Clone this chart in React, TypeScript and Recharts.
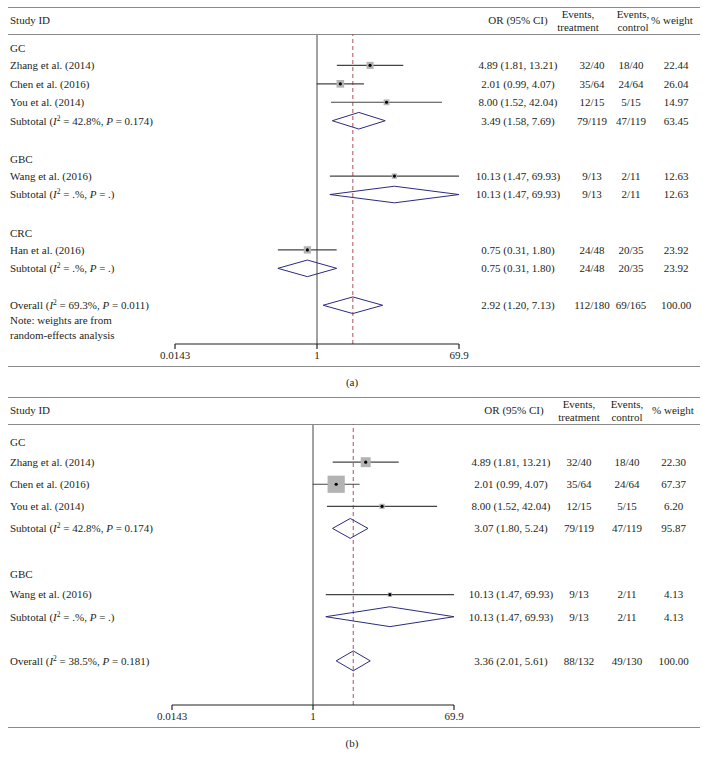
import { ComposedChart, Scatter, XAxis, YAxis, ReferenceLine, ErrorBar } from "recharts";

const FONT = '"Liberation Serif", "DejaVu Serif", serif';
const FS = 11;
const INK = "#231f20";
const NAVY = "#2b2b80";

// panel (a)
const labelsA = ["GC", "Zhang et al. (2014)", "Chen et al. (2016)", "You et al. (2014)", "Subtotal", "GBC", "Wang et al. (2016)", "Subtotal", "CRC", "Han et al. (2016)", "Subtotal", "Overall"];
const rowsA = [0, 1, 2, 3, 4, 6, 7, 8, 10, 11, 12, 14];
const kindsA = ["group", "study", "study", "study", "pooled", "group", "study", "pooled", "group", "study", "pooled", "pooled"];
const orA = [null, 4.89, 2.01, 8.0, 3.49, null, 10.13, 10.13, null, 0.75, 0.75, 2.92];
const loA = [null, 1.81, 0.99, 1.52, 1.58, null, 1.47, 1.47, null, 0.31, 0.31, 1.2];
const hiA = [null, 13.21, 4.07, 42.04, 7.69, null, 69.93, 69.93, null, 1.8, 1.8, 7.13];
const treatA = ["", "32/40", "35/64", "12/15", "79/119", "", "9/13", "9/13", "", "24/48", "24/48", "112/180"];
const ctrlA = ["", "18/40", "24/64", "5/15", "47/119", "", "2/11", "2/11", "", "20/35", "20/35", "69/165"];
const weightA = [null, 22.44, 26.04, 14.97, 63.45, null, 12.63, 12.63, null, 23.92, 23.92, 100];
const i2A = [null, null, null, null, "42.8%", null, null, ".%", null, null, ".%", "69.3%"];
const pA = [null, null, null, null, "0.174", null, null, ".", null, null, ".", "0.011"];

// panel (b)
const labelsB = ["GC", "Zhang et al. (2014)", "Chen et al. (2016)", "You et al. (2014)", "Subtotal", "GBC", "Wang et al. (2016)", "Subtotal", "Overall"];
const rowsB = [0, 1, 2, 3, 4, 6, 7, 8, 10];
const kindsB = ["group", "study", "study", "study", "pooled", "group", "study", "pooled", "pooled"];
const orB = [null, 4.89, 2.01, 8.0, 3.07, null, 10.13, 10.13, 3.36];
const loB = [null, 1.81, 0.99, 1.52, 1.8, null, 1.47, 1.47, 2.01];
const hiB = [null, 13.21, 4.07, 42.04, 5.24, null, 69.93, 69.93, 5.61];
const treatB = ["", "32/40", "35/64", "12/15", "79/119", "", "9/13", "9/13", "88/132"];
const ctrlB = ["", "18/40", "24/64", "5/15", "47/119", "", "2/11", "2/11", "49/130"];
const weightB = [null, 22.3, 67.37, 6.2, 95.87, null, 4.13, 4.13, 100];
const i2B = [null, null, null, null, "42.8%", null, null, ".%", "38.5%"];
const pB = [null, null, null, null, "0.174", null, null, ".", "0.181"];

const xTicks = [0.0143, 1, 69.9];
const noteLines = ["Note: weights are from", "random-effects analysis"];

type Row = {
  label: string; pos: number; kind: string;
  or: number | null; lo: number | null; hi: number | null;
  treat: string; ctrl: string; weight: number | null;
  i2: string | null; p: string | null;
};

const buildRows = (labels: string[], pos: number[], kinds: string[], or: any[], lo: any[], hi: any[],
  treat: string[], ctrl: string[], weight: any[], i2: any[], p: any[]): Row[] =>
  labels.map((label, i) => ({
    label, pos: pos[i], kind: kinds[i], or: or[i], lo: lo[i], hi: hi[i],
    treat: treat[i], ctrl: ctrl[i], weight: weight[i], i2: i2[i], p: p[i],
  }));

const rowsDataA = buildRows(labelsA, rowsA, kindsA, orA, loA, hiA, treatA, ctrlA, weightA, i2A, pA);
const rowsDataB = buildRows(labelsB, rowsB, kindsB, orB, loB, hiB, treatB, ctrlB, weightB, i2B, pB);

const diamond = (r: Row, h: number) => [
  { or: r.lo, pos: r.pos },
  { or: r.or, pos: r.pos - h },
  { or: r.hi, pos: r.pos },
  { or: r.or, pos: r.pos + h },
  { or: r.lo, pos: r.pos },
];

interface PanelProps {
  rows: Row[];
  top: number;
  chartHeight: number;
  plotLeft: number;
  plotRight: number;
  yDomain: [number, number];
  cols: number[];
  headCols: number[];
  boxScale: number;
  caption: string;
  note?: string[];
}

const Rule = ({ y }: { y: number }) => (
  <div style={{ position: "absolute", left: 8, width: 692, top: y, borderTop: "1.5px solid #8a8a8a" }} />
);

const Txt = ({ x, y, children, align = "center" }: any) => (
  <div style={{
    position: "absolute", top: y - 7, left: align === "center" ? x - 60 : x, width: align === "center" ? 120 : 300,
    textAlign: align, fontSize: FS, lineHeight: "14px", fontFamily: FONT, color: INK, whiteSpace: "nowrap",
  }}>{children}</div>
);

const Panel = ({ rows, top, chartHeight, plotLeft, plotRight, yDomain, cols, headCols, boxScale, caption, note }: PanelProps) => {
  const studies = rows.filter((r) => r.kind === "study");
  const pooled = rows.filter((r) => r.kind === "pooled");
  const overall = rows.find((r) => r.label === "Overall");
  const chartTop = top + 27;
  const bottom = chartTop + chartHeight;

  const renderTick = (props: any) => {
    const r = rows.find((row) => Math.abs(row.pos - props.payload.value) < 1e-6);
    if (!r) return <g />;
    const y = props.y;
    const common = { fontSize: FS, fontFamily: FONT, fill: INK };
    return (
      <g>
        <text x={10} y={y} dy={r.kind === "group" ? "0.5em" : "0.35em"} {...common}>
          {r.i2 !== null ? (
            <>
              {r.label} (<tspan fontStyle="italic">I</tspan>
              <tspan dy={-4} fontSize={7.5}>2</tspan>
              <tspan dy={4}> = {r.i2}, </tspan>
              <tspan fontStyle="italic">P</tspan> = {r.p})
            </>
          ) : r.label}
        </text>
        {r.or !== null && (
          <>
            <text x={cols[0]} y={y} dy="0.35em" textAnchor="middle" {...common}>
              {`${r.or.toFixed(2)} (${r.lo!.toFixed(2)}, ${r.hi!.toFixed(2)})`}
            </text>
            <text x={cols[1]} y={y} dy="0.35em" textAnchor="middle" {...common}>{r.treat}</text>
            <text x={cols[2]} y={y} dy="0.35em" textAnchor="middle" {...common}>{r.ctrl}</text>
            <text x={cols[3]} y={y} dy="0.35em" textAnchor="middle" {...common}>{r.weight!.toFixed(2)}</text>
          </>
        )}
      </g>
    );
  };

  const box = (props: any) => {
    const { cx, cy, payload } = props;
    const s = boxScale * Math.sqrt(payload.weight);
    return (
      <g>
        <rect x={cx - s / 2} y={cy - s / 2} width={s} height={s} fill="#b3b3b3" />
        <circle cx={cx} cy={cy} r={1.6} fill="#000" />
      </g>
    );
  };

  return (
    <>
      <Rule y={top} />
      <Txt x={10} y={top + 13} align="left">Study ID</Txt>
      <Txt x={headCols[0]} y={top + 13}>OR (95% CI)</Txt>
      <Txt x={headCols[1]} y={top + 7}>Events,</Txt>
      <Txt x={headCols[1]} y={top + 20}>treatment</Txt>
      <Txt x={headCols[2]} y={top + 7}>Events,</Txt>
      <Txt x={headCols[2]} y={top + 20}>control</Txt>
      <Txt x={headCols[3]} y={top + 13}>% weight</Txt>
      <Rule y={top + 27} />
      <div style={{ position: "absolute", left: 0, top: chartTop }}>
        <ComposedChart width={703} height={chartHeight} margin={{ top: 0, right: 703 - plotRight, bottom: 0, left: 0 }}>
          <XAxis
            type="number"
            dataKey="or"
            scale="log"
            domain={[xTicks[0], xTicks[2]]}
            ticks={xTicks}
            interval={0}
            allowDataOverflow
            height={22}
            tickSize={5}
            tickFormatter={(v) => String(v)}
            axisLine={{ stroke: "#222", strokeWidth: 1.2 }}
            tickLine={{ stroke: "#222", strokeWidth: 1.2 }}
            tick={{ fontSize: FS, fontFamily: FONT, fill: INK }}
          />
          <YAxis
            type="number"
            dataKey="pos"
            domain={yDomain}
            reversed
            allowDataOverflow
            width={plotLeft}
            ticks={rows.map((r) => r.pos)}
            interval={0}
            axisLine={false}
            tickLine={false}
            tick={renderTick}
          />
          <ReferenceLine x={1} stroke="#8a8a8a" strokeWidth={1.6} />
          {overall && (
            <ReferenceLine x={overall.or as number} stroke="#b0505e" strokeWidth={1} strokeDasharray="4 3" />
          )}
          <Scatter data={studies} shape={box} isAnimationActive={false}>
            <ErrorBar
              dataKey={(d: any) => [d.or - d.lo, d.hi - d.or]}
              direction="x"
              width={0}
              stroke="#444"
              strokeWidth={1.2}
              isAnimationActive={false}
            />
          </Scatter>
          {pooled.map((r, i) => (
            <Scatter
              key={i}
              data={diamond(r, 0.45)}
              line={{ stroke: NAVY, strokeWidth: 1 }}
              shape={() => <g />}
              isAnimationActive={false}
            />
          ))}
        </ComposedChart>
      </div>
      {note && (
        <div style={{ position: "absolute", left: 10, top: chartTop + 279, fontSize: FS, lineHeight: "15px", fontFamily: FONT, color: INK }}>
          {note.map((l) => <div key={l}>{l}</div>)}
        </div>
      )}
      <Rule y={bottom} />
      <Txt x={352} y={bottom + 16}>{caption}</Txt>
    </>
  );
};

export default function App() {
  return (
    <div style={{ position: "absolute", left: 0, top: 0, width: 703, height: 764, background: "#fff" }}>
      <Panel
        rows={rowsDataA}
        top={7}
        chartHeight={332}
        plotLeft={175}
        plotRight={459}
        yDomain={[-0.7, 16.1]}
        cols={[518, 592, 631, 676]}
        headCols={[518, 578, 633, 672]}
        boxScale={1.5}
        caption="(a)"
        note={noteLines}
      />
      <Panel
        rows={rowsDataB}
        top={397}
        chartHeight={303}
        plotLeft={172}
        plotRight={454}
        yDomain={[-0.73, 12]}
        cols={[511, 579, 627, 673.5]}
        headCols={[514, 579, 627, 673]}
        boxScale={2.1}
        caption="(b)"
      />
    </div>
  );
}
